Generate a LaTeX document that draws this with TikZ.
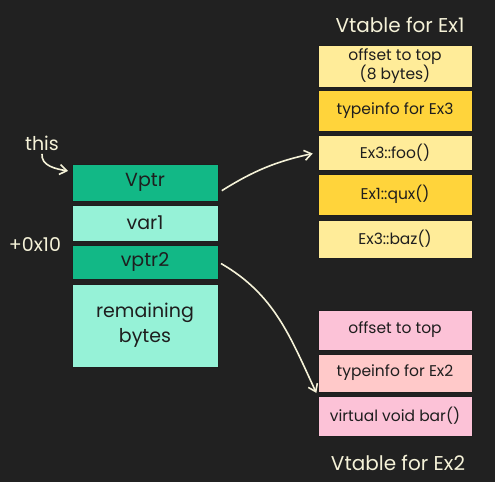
\documentclass[tikz,border=0pt]{standalone}
\usepackage{fontspec}
\setmainfont{Poppins}
\usetikzlibrary{arrows.meta, calc}
\definecolor{bgDark}{HTML}{212121}
\definecolor{mCream}{HTML}{F5F2D8}
\definecolor{mGreen}{HTML}{12B886}
\definecolor{mTeal}{HTML}{96F2D7}
\definecolor{mPale}{HTML}{FFEC99}
\definecolor{mGold}{HTML}{FFD43B}
\definecolor{mPink}{HTML}{FCC2D7}
\definecolor{mRose}{HTML}{FFC9C9}
\definecolor{mInk}{HTML}{1E1E1E}

\begin{document}
\begin{tikzpicture}[x=1pt, y=1pt,
    cell/.style={draw=mInk, line width=0.8pt, text=mInk, align=center, inner sep=0pt,
      font=\fontsize{15.5}{18}\selectfont},
    objcell/.style={cell, minimum width=146pt, font=\fontsize{19}{25}\selectfont},
    note/.style={text=mCream, font=\fontsize{19}{21}\selectfont},
    title/.style={text=mCream, font=\fontsize{20}{24}\selectfont},
    link/.style={draw=mCream, line width=1.6pt, -{Straight Barb[length=7pt, width=10pt]}}]
  \fill[bgDark] (0,0) rectangle (495,-482);
  \useasboundingbox (0,0) rectangle (495,-482);
  % object layout
  \foreach \nm/\y/\h/\fc/\txt in {vptr/182.5/37/mGreen/Vptr, var1/223/36/mTeal/var1,
      vptr2/262/34/mGreen/vptr2, rest/325.5/83/mTeal/{remaining\\bytes}}
    \node[objcell, fill=\fc, minimum height=\h pt] (\nm) at (145,-\y) {\txt};
  % the two vtables
  \foreach \nm/\y/\h/\fc/\txt in {top1/66/42/mPale/{offset to top\\(8 bytes)},
      info1/110.5/41/mGold/typeinfo for Ex3, foo/152.5/35/mPale/Ex3::foo(),
      qux/194.5/41/mGold/Ex1::qux(), baz/239/38/mPale/Ex3::baz(),
      top2/330/40/mPink/offset to top, info2/373/38/mRose/typeinfo for Ex2,
      bar/416/40/mPink/virtual void bar()}
    \node[cell, fill=\fc, minimum width=154pt, minimum height=\h pt] (\nm) at (395,-\y) {\txt};
  \node[title] (vt1) at (400,-25) {Vtable for Ex1};
  \node[title] (vt2) at (398,-463) {Vtable for Ex2};
  \node[note] (this) at (42,-143) {this};
  \node[note] (off) at (35,-245) {+0x10};
  \coordinate (thistip) at (68,-171);
  \draw[link] (this.south) to[out=-95, in=170] (thistip);
  \draw[link, shorten <=4pt, shorten >=5pt] (vptr.-8) to[bend left=10] (foo.west);
  \draw[link, shorten <=3pt, shorten >=3pt] (vptr2.east) to[out=-30, in=115] (bar.north west);
\end{tikzpicture}
\end{document}
